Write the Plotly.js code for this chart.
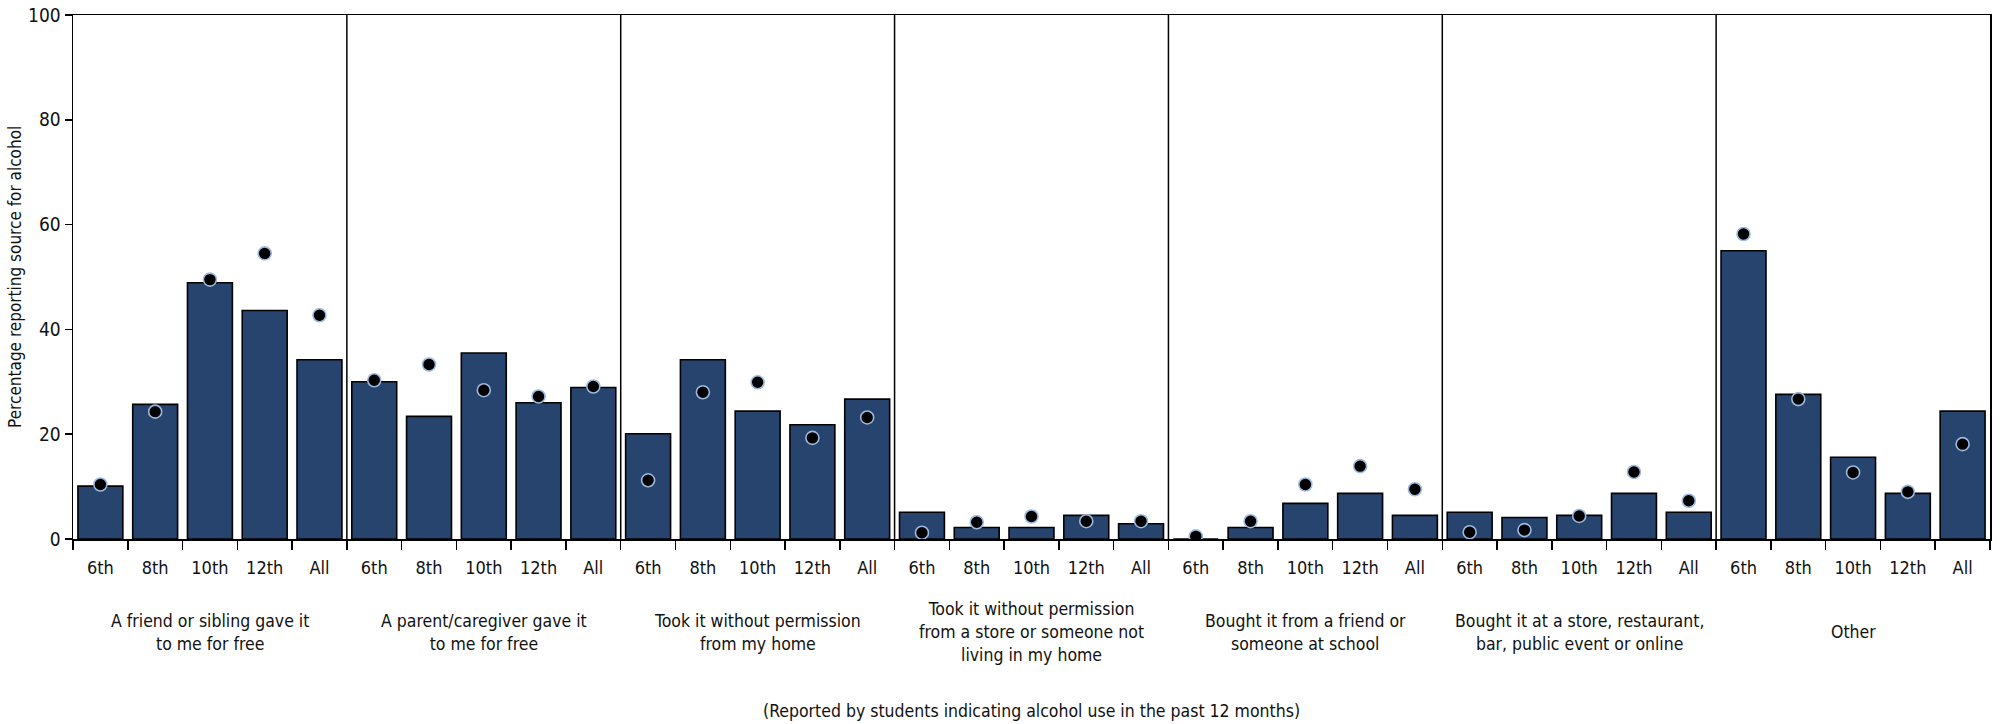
<!DOCTYPE html>
<html>
<head>
<meta charset="utf-8">
<script src="https://cdn.plot.ly/plotly-3.0.1.min.js"></script>
<style>html,body{margin:0;padding:0;background:#fff;}#chart{width:2001px;height:724px;}</style>
</head>
<body>
<div id="chart"></div>
<script>
// ---- data ----
const grades = ['6th', '8th', '10th', '12th', 'All'];
const sources = [
  'A friend or sibling gave it<br>to me for free',
  'A parent/caregiver gave it<br>to me for free',
  'Took it without permission<br>from my home',
  'Took it without permission<br>from a store or someone not<br>living in my home',
  'Bought it from a friend or<br>someone at school',
  'Bought it at a store, restaurant,<br>bar, public event or online',
  'Other'
];
// bar values (percent) per source, in grade order
const friendSiblingBars = [10.1, 25.7, 48.9, 43.6, 34.2];
const parentBars        = [30.0, 23.4, 35.5, 26.0, 28.9];
const homeBars          = [20.1, 34.2, 24.4, 21.8, 26.7];
const storeTookBars     = [5.1, 2.2, 2.2, 4.5, 2.9];
const boughtFriendBars  = [0.0, 2.2, 6.8, 8.7, 4.5];
const boughtStoreBars   = [5.1, 4.1, 4.5, 8.7, 5.1];
const otherBars         = [55.0, 27.6, 15.6, 8.7, 24.4];
// dot values (percent) per source, in grade order
const friendSiblingDots = [10.4, 24.3, 49.5, 54.5, 42.7];
const parentDots        = [30.3, 33.3, 28.4, 27.2, 29.1];
const homeDots          = [11.2, 28.0, 29.9, 19.3, 23.2];
const storeTookDots     = [1.2, 3.2, 4.3, 3.4, 3.4];
const boughtFriendDots  = [0.5, 3.4, 10.4, 13.9, 9.5];
const boughtStoreDots   = [1.3, 1.7, 4.4, 12.8, 7.3];
const otherDots         = [58.2, 26.7, 12.7, 9.0, 18.1];
const yTicks = [0, 20, 40, 60, 80, 100];
const yTitle = 'Percentage reporting source for alcohol';
const note = '(Reported by students indicating alcohol use in the past 12 months)';

// ---- build ----
const barGroups = [friendSiblingBars, parentBars, homeBars, storeTookBars, boughtFriendBars, boughtStoreBars, otherBars];
const dotGroups = [friendSiblingDots, parentDots, homeDots, storeTookDots, boughtFriendDots, boughtStoreDots, otherDots];
const nG = grades.length;
const xs = [], bars = [], dots = [], tickText = [];
barGroups.forEach((g, gi) => g.forEach((v, i) => {
  xs.push(gi * nG + i); bars.push(v); dots.push(dotGroups[gi][i]); tickText.push(grades[i]);
}));
const boundaries = [];
for (let k = 0; k <= xs.length; k++) boundaries.push(k - 0.5);
const FONT = '"Liberation Sans Narrow", "DejaVu Sans Condensed", "Arial Narrow", sans-serif';
const xRange = [-0.5, xs.length - 0.5];

const traces = [
  {type: 'bar', x: xs, y: bars, width: 0.82,
   marker: {color: '#27446E', line: {color: '#000', width: 1.6}},
   hoverinfo: 'skip', showlegend: false},
  {type: 'scatter', mode: 'markers', x: xs, y: dots, xaxis: 'x2', yaxis: 'y',
   marker: {color: '#000', size: 13, line: {color: '#9DB9DD', width: 1.6}},
   hoverinfo: 'skip', showlegend: false}
];

const shapes = [];
for (let gi = 1; gi < sources.length; gi++) {
  shapes.push({type: 'line', xref: 'x', yref: 'paper', x0: gi * nG - 0.5, x1: gi * nG - 0.5, y0: 0, y1: 1,
               line: {color: '#000', width: 1.5}});
}
const annotations = sources.map((s, gi) => ({
  text: s, xref: 'x', yref: 'paper', x: gi * nG + (nG - 1) / 2, y: -0.1784,
  xanchor: 'center', yanchor: 'middle', showarrow: false, align: 'center',
  font: {family: FONT, size: 17.5, color: '#111'}
}));
annotations.push({text: note, xref: 'paper', yref: 'paper', x: 0.5, y: -0.328, xanchor: 'center', yanchor: 'middle',
  showarrow: false, font: {family: FONT, size: 17.5, color: '#111'}});
annotations.push({text: yTitle, xref: 'paper', yref: 'paper', x: -0.0303, y: 0.5, xanchor: 'center', yanchor: 'middle',
  textangle: -90, showarrow: false, font: {family: FONT, size: 17, color: '#111'}});

const layout = {
  width: 2001, height: 724,
  margin: {l: 73, r: 11, t: 15, b: 185},
  paper_bgcolor: '#fff', plot_bgcolor: '#fff',
  font: {family: FONT, size: 18, color: '#111'},
  bargap: 0.18,
  xaxis: {range: xRange, tickmode: 'array', tickvals: xs, ticktext: tickText,
          ticks: '', ticklabelstandoff: 12, showline: true, linecolor: '#000', linewidth: 1.5, mirror: true,
          showgrid: false, zeroline: false, fixedrange: true, tickfont: {family: FONT, size: 18, color: '#111'}},
  xaxis2: {overlaying: 'x', anchor: 'y', side: 'bottom', range: xRange, tickmode: 'array',
           tickvals: boundaries, ticks: 'outside', ticklen: 10, tickwidth: 1.5, tickcolor: '#000',
           showticklabels: false, showline: false, showgrid: false, zeroline: false, fixedrange: true},
  yaxis: {range: [0, 100], tickmode: 'array', tickvals: yTicks, ticks: 'outside', ticklen: 7, tickwidth: 1.5,
          tickcolor: '#000', showline: true, linecolor: '#000', linewidth: 1.5, mirror: true,
          showgrid: false, zeroline: false, fixedrange: true, tickfont: {family: FONT, size: 19, color: '#111'}},
  shapes: shapes,
  annotations: annotations
};

Plotly.newPlot('chart', traces, layout, {staticPlot: true, displayModeBar: false});
</script>
</body>
</html>
